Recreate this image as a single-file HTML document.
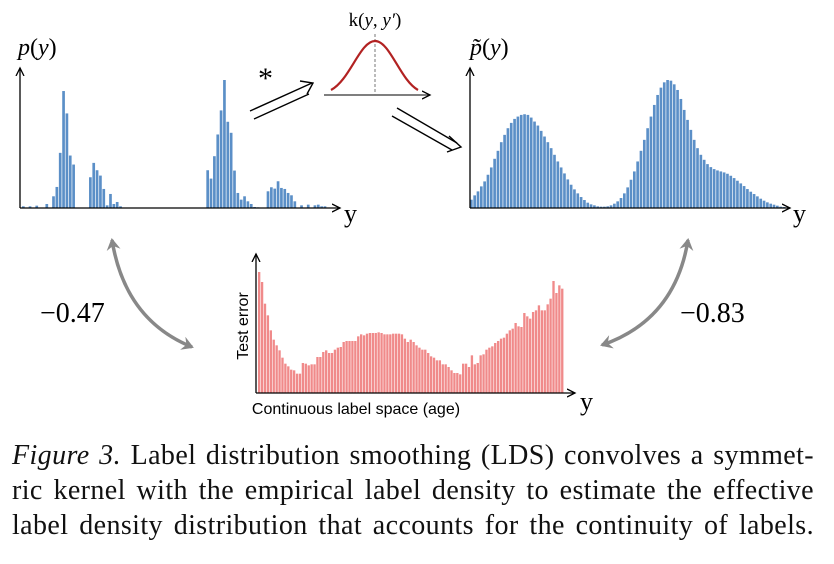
<!DOCTYPE html>
<html><head><meta charset="utf-8">
<style>
body{margin:0;background:#fff;width:834px;height:564px;overflow:hidden}
svg{display:block}
.cap{position:absolute;left:12px;top:438px;width:802px;font-family:"Liberation Serif",serif;font-size:28px;letter-spacing:0.4px;line-height:35px;color:#111}
.cap div{text-align:justify;text-align-last:justify;white-space:nowrap}
</style></head><body>
<svg id="fig" width="834" height="440" style="position:absolute;left:0;top:0">
<defs>
<marker id="ah" markerWidth="10" markerHeight="10" refX="8" refY="5" orient="auto" markerUnits="userSpaceOnUse"><path d="M0,1 L8,5 L0,9" fill="none" stroke="#000" stroke-width="1.3"/></marker>
<marker id="gh" markerWidth="14" markerHeight="14" refX="10" refY="7" orient="auto-start-reverse" markerUnits="userSpaceOnUse"><path d="M0,0 L12,7 L0,14 L4,7z" fill="#888"/></marker>
</defs>
<g id="left"></g>
<g id="right"></g>
<g id="bottom"></g>
<line x1="20" y1="208" x2="20" y2="68" stroke="#000" stroke-width="1.3" marker-end="url(#ah)"/>
<line x1="20" y1="208" x2="340" y2="208" stroke="#000" stroke-width="1.3" marker-end="url(#ah)"/>
<text x="18" y="55" font-family="Liberation Serif,serif" font-size="24"><tspan font-style="italic">p</tspan>(<tspan font-style="italic">y</tspan>)</text>
<text x="344" y="222" font-family="Liberation Serif,serif" font-size="26">y</text>
<line x1="470" y1="208" x2="470" y2="68" stroke="#000" stroke-width="1.3" marker-end="url(#ah)"/>
<line x1="470" y1="208" x2="790" y2="208" stroke="#000" stroke-width="1.3" marker-end="url(#ah)"/>
<text x="470" y="55" font-family="Liberation Serif,serif" font-size="24"><tspan font-style="italic">p̃</tspan>(<tspan font-style="italic">y</tspan>)</text>
<text x="793" y="222" font-family="Liberation Serif,serif" font-size="26">y</text>
<line x1="256" y1="393" x2="256" y2="254" stroke="#000" stroke-width="1.3" marker-end="url(#ah)"/>
<line x1="256" y1="393" x2="575" y2="393" stroke="#000" stroke-width="1.3" marker-end="url(#ah)"/>
<text x="248" y="326" transform="rotate(-90 248 326)" text-anchor="middle" font-family="Liberation Sans,sans-serif" font-size="16">Test error</text>
<text x="356" y="414" text-anchor="middle" font-family="Liberation Sans,sans-serif" font-size="16">Continuous label space (age)</text>
<text x="580" y="410" font-family="Liberation Serif,serif" font-size="26">y</text>
<g>
<line x1="324" y1="95" x2="430" y2="95" stroke="#333" stroke-width="1.2" marker-end="url(#ah)"/>
<line x1="375" y1="34" x2="375" y2="95" stroke="#777" stroke-width="1" stroke-dasharray="3,2"/>
<path d="M331,90 C350,80 360,41 375,41 C390,41 400,80 418,90" fill="none" stroke="#b22222" stroke-width="2.2"/>
<text x="375" y="26" text-anchor="middle" font-family="Liberation Serif,serif" font-size="19">k(<tspan font-style="italic">y</tspan>, <tspan font-style="italic">y′</tspan>)</text>
</g>
<g stroke="#000" stroke-width="1.4" fill="none">
<line x1="250" y1="111" x2="312" y2="83"/><line x1="254" y1="119" x2="309" y2="94"/>
<path d="M300,81 L313,83 L307,94"/>
<text x="258" y="88" font-family="Liberation Serif,serif" font-size="30" fill="#000" stroke="none">*</text>
</g>
<g stroke="#000" stroke-width="1.4" fill="none">
<line x1="397" y1="108" x2="457" y2="143"/><line x1="392" y1="116" x2="452" y2="150"/>
<path d="M449,136 L461,147 L447,152"/>
</g>
<path d="M112,240 Q125,320 192,347" fill="none" stroke="#888" stroke-width="3.5" marker-start="url(#gh)" marker-end="url(#gh)"/>
<path d="M688,240 Q675,320 602,345" fill="none" stroke="#888" stroke-width="3.5" marker-start="url(#gh)" marker-end="url(#gh)"/>
<text x="40" y="322" font-family="Liberation Serif,serif" font-size="28">−0.47</text>
<text x="680" y="322" font-family="Liberation Serif,serif" font-size="28">−0.83</text>
</svg>
<div class="cap">
<div><i>Figure 3.</i> Label distribution smoothing (LDS) convolves a symmet-</div>
<div>ric kernel with the empirical label density to estimate the effective</div>
<div>label density distribution that accounts for the continuity of labels.</div>
</div>
<script>
const leftValues=[5,0,5,0,7,0,0,12,0,35,63,165,350,283,157,130,0,0,0,0,92,135,113,97,57,8,42,12,18,5,
0,0,0,0,0,0,0,0,0,0,0,0,0,0,0,0,0,0,0,0,0,0,0,0,0,
113,88,155,220,292,383,258,225,112,45,25,35,20,12,3,2,0,0,50,62,58,80,60,57,45,38,20,0,8,0,10,0,8,10,5,5];
const rightValues=[25,38,50,65,80,100,122,148,172,198,220,240,256,268,275,280,282,280,272,260,248,232,215,198,180,160,140,122,104,86,70,56,44,33,24,16,11,8,5,4,4,5,8,13,20,30,44,62,85,110,140,172,205,240,275,310,340,362,378,385,383,372,355,328,295,265,235,205,180,160,145,132,123,117,113,110,107,103,97,90,82,74,66,57,49,42,35,28,22,17,13,10,7,4,3];
const errorTops=[65,95,160,195,240,268,285,300,322,340,348,358,360,370,370,338,340,345,342,342,320,320,305,300,308,308,298,292,290,275,272,272,272,272,258,252,255,250,248,248,248,246,248,252,252,252,250,250,250,252,265,275,268,275,285,292,298,298,308,318,322,330,330,342,342,350,360,368,368,372,340,340,350,315,342,338,315,312,298,292,288,278,272,265,262,250,240,235,218,228,230,188,198,205,185,180,165,180,180,162,145,92,128,105,115];
const errorValues=errorTops.map(t=>428-t);
const NS='http://www.w3.org/2000/svg';
function draw(id,vals,x0,x1,base,maxV,maxH,fill,name){
  const g=document.getElementById(id);const n=vals.length;const pitch=(x1-x0)/n;
  const xs=i=>x0+i*pitch; const ys=v=>v/maxV*maxH;
  vals.forEach((v,i)=>{if(v<=0)return;const r=document.createElementNS(NS,'rect');
    const h=ys(v);r.setAttribute('x',xs(i));r.setAttribute('y',base-h);r.setAttribute('width',pitch*0.8);r.setAttribute('height',h);r.setAttribute('fill',fill);
    
    
    g.appendChild(r);});
}
draw('left',leftValues,22,327,208,383,128,'#5b8fc7','left-bar');
draw('right',rightValues,470,786,208,385,128,'#5b8fc7','right-bar');
draw('bottom',errorValues,258,564,393,363,121,'#f08a8a','error-bar');
</script>
</body></html>
